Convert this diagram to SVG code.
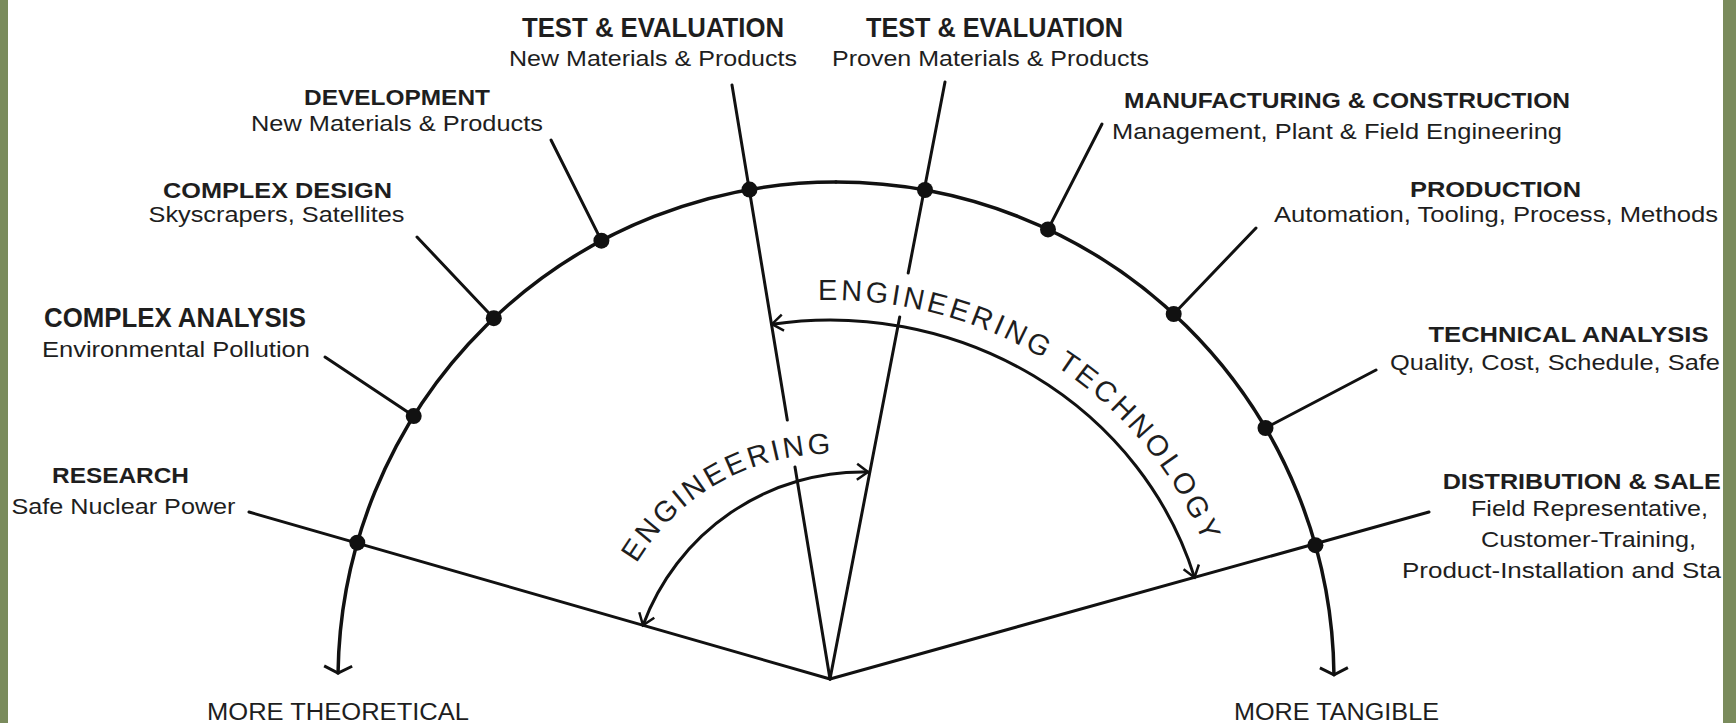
<svg xmlns="http://www.w3.org/2000/svg" width="1736" height="723" viewBox="0 0 1736 723">
<style>
.ln{stroke:#111;stroke-width:3;fill:none;stroke-linecap:round}
.ow{stroke-width:3.5}
.dot{fill:#111}
text{font-family:"Liberation Sans",Arial,sans-serif;fill:#1e1e1e}
.h{font-weight:bold;font-size:22px}
.n{font-weight:bold;font-size:28px}
.s{font-size:22px}
.m{font-size:23px}
.a{font-size:29px;letter-spacing:3px}
.a2{font-size:29px;letter-spacing:3.3px}
</style>
<defs>
<marker id="v" markerUnits="userSpaceOnUse" markerWidth="40" markerHeight="40" viewBox="-20 -20 40 40" refX="0" refY="0" orient="auto-start-reverse">
<path d="M -11 -8 L 0 0 L -11 8" fill="none" stroke="#111" stroke-width="2.5"/>
</marker>
<marker id="vb" markerUnits="userSpaceOnUse" markerWidth="40" markerHeight="40" viewBox="-20 -20 40 40" refX="0" refY="0" orient="auto">
<path d="M -7 -14 L 0 0 L -7 14" fill="none" stroke="#111" stroke-width="3"/>
</marker>
<path id="p-eng" d="M 636.5 563.5 A 225 225 0 0 1 869 457.4"/>
<path id="p-et" d="M 816 300.2 A 400 379 0 0 1 1224 614.8"/>
</defs>
<rect x="0" y="0" width="1736" height="723" fill="#ffffff"/>
<rect x="0" y="0" width="8" height="723" fill="#7a8b5c"/>
<rect x="1723" y="0" width="13" height="723" fill="#7a8b5c"/>

<g id="connectors">
<path class="ln ow" d="M 836 182 A 498 498 0 0 0 338.05 673.05" marker-end="url(#vb)"/>
<path class="ln ow" d="M 836 182 A 498 498 0 0 1 1333.97 674.8" marker-end="url(#vb)"/>
<line class="ln" x1="830" y1="679" x2="249" y2="512"/>
<line class="ln" x1="830" y1="679" x2="1429" y2="512"/>
<line class="ln" x1="830" y1="679" x2="795" y2="467"/>
<line class="ln" x1="787.3" y1="420" x2="732" y2="85"/>
<line class="ln" x1="830" y1="679" x2="899.7" y2="317"/>
<line class="ln" x1="908.2" y1="273" x2="945" y2="82"/>
<line class="ln" x1="413.7" y1="416.1" x2="325" y2="357"/>
<line class="ln" x1="493.8" y1="318.2" x2="417" y2="237"/>
<line class="ln" x1="601.4" y1="240.7" x2="551" y2="140"/>
<line class="ln" x1="1048" y1="229.4" x2="1102" y2="124"/>
<line class="ln" x1="1173.7" y1="314" x2="1256" y2="228"/>
<line class="ln" x1="1265.5" y1="428" x2="1376" y2="370"/>
<path class="ln" d="M 868 472 A 234 234 0 0 0 643 625.3" marker-start="url(#v)" marker-end="url(#v)"/>
<path class="ln" d="M 772 324.2 A 380 359 0 0 1 1194.5 577.4" marker-start="url(#v)" marker-end="url(#v)"/>
</g>

<g id="engineering">
<text class="a"><textPath href="#p-eng" startOffset="0">ENGINEERING</textPath></text>
</g>
<g id="engineering-technology">
<text class="a2"><textPath href="#p-et" startOffset="2">ENGINEERING TECHNOLOGY</textPath></text>
</g>

<g id="research">
<circle class="dot" cx="357.3" cy="542.7" r="8"/>
<text class="h" x="52" y="483" textLength="137" lengthAdjust="spacingAndGlyphs">RESEARCH</text>
<text class="s" x="11.5" y="514" textLength="224" lengthAdjust="spacingAndGlyphs">Safe Nuclear Power</text>
</g>
<g id="complex-analysis">
<circle class="dot" cx="413.7" cy="416.1" r="8"/>
<text class="n" x="44" y="327" textLength="262" lengthAdjust="spacingAndGlyphs">COMPLEX ANALYSIS</text>
<text class="s" x="42" y="357" textLength="268" lengthAdjust="spacingAndGlyphs">Environmental Pollution</text>
</g>
<g id="complex-design">
<circle class="dot" cx="493.8" cy="318.2" r="8"/>
<text class="h" x="163" y="198" textLength="229" lengthAdjust="spacingAndGlyphs">COMPLEX DESIGN</text>
<text class="s" x="148.5" y="222" textLength="256" lengthAdjust="spacingAndGlyphs">Skyscrapers, Satellites</text>
</g>
<g id="development">
<circle class="dot" cx="601.4" cy="240.7" r="8"/>
<text class="h" x="304" y="105" textLength="186" lengthAdjust="spacingAndGlyphs">DEVELOPMENT</text>
<text class="s" x="251" y="131" textLength="292" lengthAdjust="spacingAndGlyphs">New Materials &amp; Products</text>
</g>
<g id="test-evaluation-new">
<circle class="dot" cx="749.5" cy="189.6" r="8"/>
<text class="n" x="522" y="37" textLength="262" lengthAdjust="spacingAndGlyphs">TEST &amp; EVALUATION</text>
<text class="s" x="509" y="66" textLength="288" lengthAdjust="spacingAndGlyphs">New Materials &amp; Products</text>
</g>
<g id="test-evaluation-proven">
<circle class="dot" cx="925" cy="190" r="8"/>
<text class="n" x="866" y="37" textLength="257" lengthAdjust="spacingAndGlyphs">TEST &amp; EVALUATION</text>
<text class="s" x="832" y="66" textLength="317" lengthAdjust="spacingAndGlyphs">Proven Materials &amp; Products</text>
</g>
<g id="manufacturing">
<circle class="dot" cx="1048" cy="229.4" r="8"/>
<text class="h" x="1124" y="108" textLength="446" lengthAdjust="spacingAndGlyphs">MANUFACTURING &amp; CONSTRUCTION</text>
<text class="s" x="1112" y="139" textLength="450" lengthAdjust="spacingAndGlyphs">Management, Plant &amp; Field Engineering</text>
</g>
<g id="production">
<circle class="dot" cx="1173.7" cy="314" r="8"/>
<text class="h" x="1410" y="197" textLength="171" lengthAdjust="spacingAndGlyphs">PRODUCTION</text>
<text class="s" x="1274" y="222" textLength="444" lengthAdjust="spacingAndGlyphs">Automation, Tooling, Process, Methods</text>
</g>
<g id="technical-analysis">
<circle class="dot" cx="1265.5" cy="428" r="8"/>
<text class="h" x="1428.5" y="342" textLength="280" lengthAdjust="spacingAndGlyphs">TECHNICAL ANALYSIS</text>
<text class="s" x="1390" y="370" textLength="330" lengthAdjust="spacingAndGlyphs">Quality, Cost, Schedule, Safe</text>
</g>
<g id="distribution">
<circle class="dot" cx="1315.4" cy="545.2" r="8"/>
<text class="h" x="1442.7" y="489" textLength="278" lengthAdjust="spacingAndGlyphs">DISTRIBUTION &amp; SALE</text>
<text class="s" x="1471" y="516" textLength="237" lengthAdjust="spacingAndGlyphs">Field Representative,</text>
<text class="s" x="1481" y="547" textLength="215" lengthAdjust="spacingAndGlyphs">Customer-Training,</text>
<text class="s" x="1402" y="578" textLength="319" lengthAdjust="spacingAndGlyphs">Product-Installation and Sta</text>
</g>
<g id="more-theoretical">
<text class="m" x="207" y="720" textLength="262" lengthAdjust="spacingAndGlyphs">MORE THEORETICAL</text>
</g>
<g id="more-tangible">
<text class="m" x="1234" y="720" textLength="205" lengthAdjust="spacingAndGlyphs">MORE TANGIBLE</text>
</g>
</svg>
